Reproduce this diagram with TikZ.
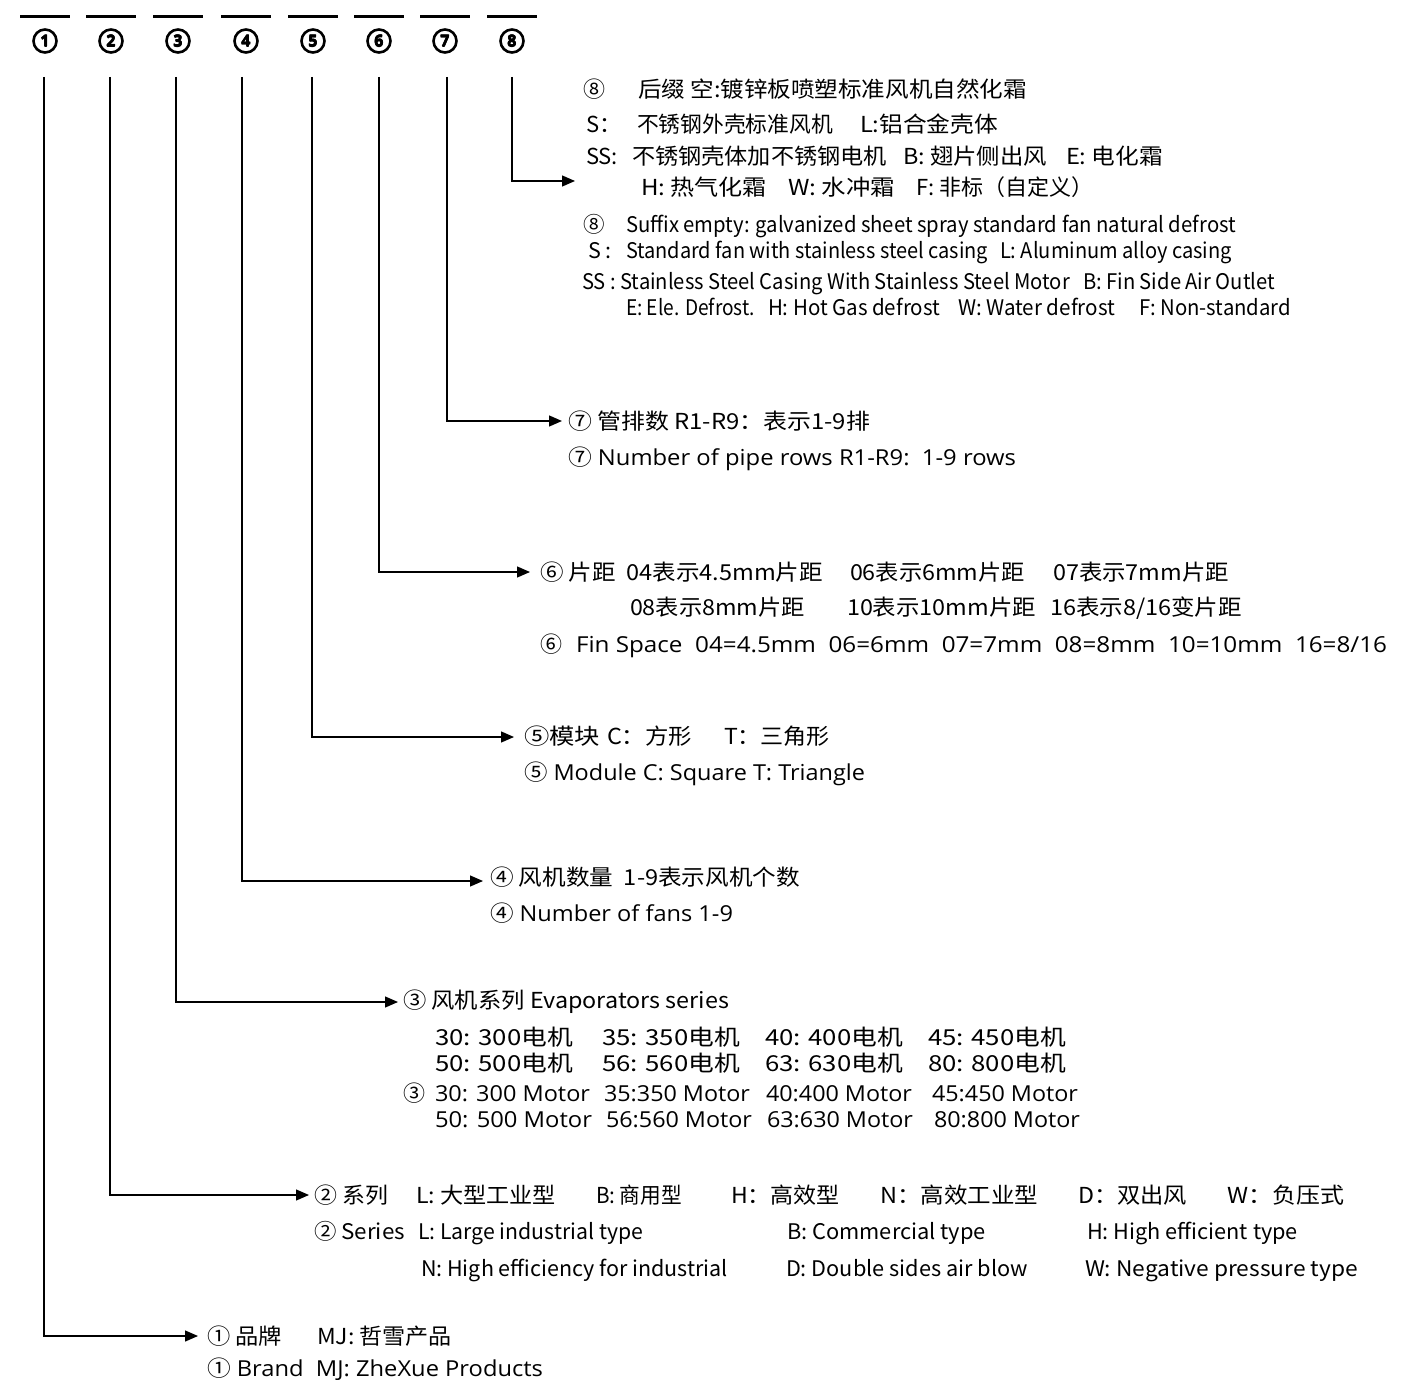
\documentclass[tikz,border=0pt]{standalone}
\usepackage{fontspec}
\setmainfont{Open Sans}
\newfontfamily\cjk{Noto Sans CJK SC}
\usetikzlibrary{arrows.meta}
\newsavebox\fitbx
\newcommand\fw[2]{\sbox\fitbx{#2}\pgfmathsetmacro\fitr{#1/\the\wd\fitbx}\scalebox{\fitr}[1]{\usebox\fitbx}}
\newcommand\thickdigit[1]{\rlap{#1}\rlap{\hspace{0.6pt}#1}\rlap{\hspace{0.3pt}\raisebox{0.5pt}{#1}}\rlap{\hspace{0.3pt}\raisebox{-0.3pt}{#1}}\hspace{0.6pt}\phantom{#1}}
\tikzset{
 cn/.style={anchor=base west, inner sep=0pt, outer sep=0pt, font=\cjk\fontsize{22}{26}\selectfont},
 en/.style={anchor=base west, inner sep=0pt, outer sep=0pt, font=\fontsize{22}{26}\selectfont},
 ec/.style={anchor=base west, inner sep=0pt, outer sep=0pt, font=\cjk\fontsize{21.5}{25}\selectfont},
 num/.style={circle, draw, line width=2.6pt, minimum size=23pt, inner sep=0pt, font=\bfseries\fontsize{16}{16}\selectfont},
 bar/.style={line width=3pt},
 conn/.style={line width=1.3pt, -{Triangle[length=13pt,width=11pt]}},
}
\begin{document}
\begin{tikzpicture}[x=1pt,y=-1pt]
\useasboundingbox (0,0) rectangle (1422,1380);
% top bars
\draw[bar] (20,17) -- (70,17);
\draw[bar] (86,17) -- (136,17);
\draw[bar] (153,17) -- (203,17);
\draw[bar] (221,17) -- (271,17);
\draw[bar] (288,17) -- (338,17);
\draw[bar] (354,17) -- (404,17);
\draw[bar] (420,17) -- (470,17);
\draw[bar] (487,17) -- (537,17);
% circled numbers
\node[num] (n1) at (45,41) {\thickdigit{1}};
\node[num] (n2) at (111,41) {\thickdigit{2}};
\node[num] (n3) at (178,41) {\thickdigit{3}};
\node[num] (n4) at (246,41) {\thickdigit{4}};
\node[num] (n5) at (313,41) {\thickdigit{5}};
\node[num] (n6) at (379,41) {\thickdigit{6}};
\node[num] (n7) at (445,41) {\thickdigit{7}};
\node[num] (n8) at (512,41) {\thickdigit{8}};
% connector ends
\coordinate (s1) at (44,77);  \coordinate (e1) at (198,1336);
\coordinate (s2) at (110,77); \coordinate (e2) at (309,1195);
\coordinate (s3) at (176,77); \coordinate (e3) at (398,1002);
\coordinate (s4) at (242,77); \coordinate (e4) at (483,881);
\coordinate (s5) at (312,77); \coordinate (e5) at (514,737);
\coordinate (s6) at (379,77); \coordinate (e6) at (530,572);
\coordinate (s7) at (447,77); \coordinate (e7) at (562,421);
\coordinate (s8) at (512,77); \coordinate (e8) at (575,181);
\draw[conn] (s1) |- (e1);
\draw[conn] (s2) |- (e2);
\draw[conn] (s3) |- (e3);
\draw[conn] (s4) |- (e4);
\draw[conn] (s5) |- (e5);
\draw[conn] (s6) |- (e6);
\draw[conn] (s7) |- (e7);
\draw[conn] (s8) |- (e8);
% block 8 Chinese
\node[cn] (c8a) at (583,98) {⑧};
\node[cn] (c8b) at (638,98) {\fw{389}{后缀 空:镀锌板喷塑标准风机自然化霜}};
\node[cn] (c8c) at (586,133) {S：};
\node[cn] (c8d) at (637,133) {\fw{196}{不锈钢外壳标准风机}};
\node[cn] (c8e) at (860,133) {\fw{138}{L:铝合金壳体}};
\node[cn] (c8f) at (586,165) {SS:};
\node[cn] (c8g) at (632,165) {\fw{255}{不锈钢壳体加不锈钢电机}};
\node[cn] (c8h) at (903,165) {\fw{144}{B: 翅片侧出风}};
\node[cn] (c8i) at (1066,165) {\fw{97}{E: 电化霜}};
\node[cn] (c8j) at (641,196) {\fw{126}{H: 热气化霜}};
\node[cn] (c8k) at (788,196) {\fw{107}{W: 水冲霜}};
\node[cn] (c8l) at (916,196) {\fw{177}{F: 非标（自定义）}};
% block 8 English
\node[ec] (e8a) at (583,233) {⑧};
\node[ec] (e8b) at (626,233) {\fw{610}{Suffix empty: galvanized sheet spray standard fan natural defrost}};
\node[ec] (e8c) at (588,259) {S :};
\node[ec] (e8d) at (626,259) {\fw{362}{Standard fan with stainless steel casing}};
\node[ec] (e8e) at (1000,259) {\fw{232}{L: Aluminum alloy casing}};
\node[ec] (e8f) at (582,290) {\fw{488}{SS : Stainless Steel Casing With Stainless Steel Motor}};
\node[ec] (e8g) at (1083,290) {\fw{192}{B: Fin Side Air Outlet}};
\node[ec] (e8h) at (626,316) {\fw{129}{E: Ele. Defrost.}};
\node[ec] (e8i) at (768,316) {\fw{172}{H: Hot Gas defrost}};
\node[ec] (e8j) at (958,316) {\fw{157}{W: Water defrost}};
\node[ec] (e8k) at (1139,316) {\fw{152}{F: Non-standard}};
% block 7
\node[cn] (c7) at (568,429) {\fw{302}{⑦ 管排数 R1-R9：表示1-9排}};
\node[en] (g7) at (568,465) {\fw{448}{{\cjk ⑦} Number of pipe rows R1-R9:\ \ 1-9 rows}};
% block 6
\node[cn] (c6a) at (540,580) {\fw{283}{⑥ 片距\ \ 04表示4.5mm片距}};
\node[cn] (c6b) at (850,580) {\fw{175}{06表示6mm片距}};
\node[cn] (c6c) at (1053,580) {\fw{176}{07表示7mm片距}};
\node[cn] (c6d) at (630,615) {\fw{175}{08表示8mm片距}};
\node[cn] (c6e) at (847,615) {\fw{189}{10表示10mm片距}};
\node[cn] (c6f) at (1050,615) {\fw{192}{16表示8/16变片距}};
\node[en] (g6a) at (540,652) {{\cjk ⑥}};
\node[en] (g6b) at (576,652) {\fw{811}{Fin Space\ \ 04=4.5mm\ \ 06=6mm\ \ 07=7mm\ \ 08=8mm\ \ 10=10mm\ \ 16=8/16}};
% block 5
\node[cn] (c5a) at (524,744) {\fw{76}{⑤模块}};
\node[cn] (c5b) at (607,744) {\fw{85}{C：方形}};
\node[cn] (c5c) at (724,744) {\fw{106}{T：三角形}};
\node[en] (g5) at (524,780) {\fw{341}{{\cjk ⑤} Module C: Square T: Triangle}};
% block 4
\node[cn] (c4) at (490,885) {\fw{310}{④ 风机数量\ \ 1-9表示风机个数}};
\node[en] (g4) at (490,921) {\fw{243}{{\cjk ④} Number of fans 1-9}};
% block 3
\node[cn] (c3) at (403,1008) {\fw{326}{③ 风机系列 Evaporators series}};
\node[cn] (c3a) at (435,1045) {\fw{138}{30: 300电机}};
\node[cn] (c3b) at (602,1045) {\fw{138}{35: 350电机}};
\node[cn] (c3c) at (765,1045) {\fw{138}{40: 400电机}};
\node[cn] (c3d) at (928,1045) {\fw{138}{45: 450电机}};
\node[cn] (c3e) at (435,1071) {\fw{138}{50: 500电机}};
\node[cn] (c3f) at (602,1071) {\fw{138}{56: 560电机}};
\node[cn] (c3g) at (765,1071) {\fw{138}{63: 630电机}};
\node[cn] (c3h) at (928,1071) {\fw{138}{80: 800电机}};
\node[en] (g3) at (403,1101) {{\cjk ③}};
\node[en] (g3a) at (435,1101) {\fw{155}{30: 300 Motor}};
\node[en] (g3b) at (604,1101) {\fw{146}{35:350 Motor}};
\node[en] (g3c) at (766,1101) {\fw{146}{40:400 Motor}};
\node[en] (g3d) at (932,1101) {\fw{146}{45:450 Motor}};
\node[en] (g3e) at (435,1127) {\fw{157}{50: 500 Motor}};
\node[en] (g3f) at (606,1127) {\fw{146}{56:560 Motor}};
\node[en] (g3g) at (767,1127) {\fw{146}{63:630 Motor}};
\node[en] (g3h) at (934,1127) {\fw{146}{80:800 Motor}};
% block 2
\node[cn] (c2a) at (314,1203) {\fw{74}{② 系列}};
\node[cn] (c2b) at (416,1203) {\fw{140}{L: 大型工业型}};
\node[cn] (c2c) at (596,1203) {\fw{86}{B: 商用型}};
\node[cn] (c2d) at (731,1203) {\fw{109}{H：高效型}};
\node[cn] (c2e) at (880,1203) {\fw{158}{N：高效工业型}};
\node[cn] (c2f) at (1078,1203) {\fw{109}{D：双出风}};
\node[cn] (c2g) at (1227,1203) {\fw{117}{W：负压式}};
\node[ec] (g2a) at (314,1239) {\fw{91}{② Series}};
\node[ec] (g2b) at (418,1239) {\fw{225}{L: Large industrial type}};
\node[ec] (g2c) at (787,1239) {\fw{199}{B: Commercial type}};
\node[ec] (g2d) at (1087,1239) {\fw{211}{H: High efficient type}};
\node[ec] (g2e) at (421,1276) {\fw{307}{N: High efficiency for industrial}};
\node[ec] (g2f) at (786,1276) {\fw{242}{D: Double sides air blow}};
\node[ec] (g2g) at (1085,1276) {\fw{273}{W: Negative pressure type}};
% block 1
\node[cn] (c1a) at (207,1344) {\fw{75}{① 品牌}};
\node[cn] (c1b) at (317,1344) {\fw{135}{MJ: 哲雪产品}};
\node[en] (g1) at (207,1376) {\fw{336}{{\cjk ①} Brand\ \ MJ: ZheXue Products}};
\end{tikzpicture}
\end{document}
